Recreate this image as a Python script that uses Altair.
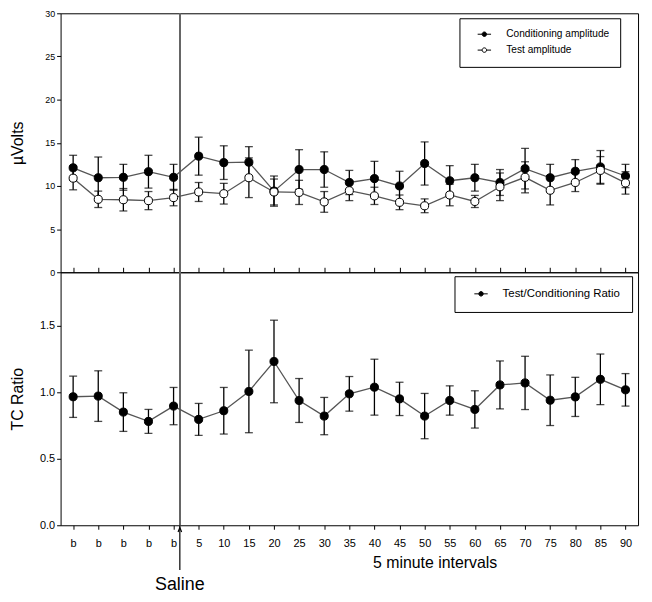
import altair as alt
import pandas as pd

labels = ["b", "b", "b", "b", "b", "5", "10", "15", "20", "25", "30", "35",
          "40", "45", "50", "55", "60", "65", "70", "75", "80", "85", "90"]
cond_mean = [12.1, 10.95, 11.0, 11.65, 11.0, 13.45, 12.7, 12.75, 9.4, 11.9, 11.9, 10.4,
             10.85, 10.0, 12.6, 10.6, 10.95, 10.4, 12.0, 10.95, 11.7, 12.2, 11.15]
cond_err = [1.45, 2.4, 1.5, 1.9, 1.5, 2.2, 1.95, 1.8, 1.75, 2.3, 2.05, 1.4,
            2.0, 1.7, 2.5, 1.75, 1.55, 1.5, 2.35, 1.55, 1.35, 1.9, 1.35]
test_mean = [10.9, 8.45, 8.4, 8.3, 8.65, 9.3, 9.1, 10.95, 9.3, 9.25, 8.15, 9.45,
             8.85, 8.1, 7.7, 8.95, 8.2, 9.9, 11.0, 9.5, 10.4, 11.8, 10.35]
test_err = [1.35, 0.95, 1.3, 1.05, 0.95, 1.1, 1.2, 2.3, 1.5, 1.4, 1.2, 1.15,
            1.0, 0.85, 0.8, 1.25, 0.7, 1.6, 1.8, 1.7, 1.05, 1.6, 1.3]
ratio_mean = [0.965, 0.97, 0.85, 0.78, 0.895, 0.795, 0.86, 1.005, 1.23, 0.937, 0.82, 0.987,
              1.037, 0.949, 0.82, 0.937, 0.87, 1.054, 1.069, 0.939, 0.964, 1.096, 1.017]
ratio_err = [0.155, 0.19, 0.145, 0.09, 0.14, 0.12, 0.175, 0.31, 0.31, 0.165, 0.14, 0.13,
             0.21, 0.125, 0.17, 0.11, 0.14, 0.18, 0.2, 0.19, 0.147, 0.19, 0.122]
series_names = ["Conditioning amplitude", "Test amplitude"]
ratio_name = "Test/Conditioning Ratio"
saline_x = 4.25

FONT = "Liberation Sans"
W = 582
H_TOP = 261
H_BOT = 255

idx = list(range(len(labels)))
rows = []
for name, m, e in [(series_names[0], cond_mean, cond_err), (series_names[1], test_mean, test_err)]:
    for i in idx:
        rows.append({"idx": i, "series": name, "mean": m[i], "lo": m[i] - e[i], "hi": m[i] + e[i]})
top_df = pd.DataFrame(rows)
bot_df = pd.DataFrame({
    "idx": idx,
    "series": [ratio_name] * len(idx),
    "mean": ratio_mean,
    "lo": [m - e for m, e in zip(ratio_mean, ratio_err)],
    "hi": [m + e for m, e in zip(ratio_mean, ratio_err)],
})

label_expr = "[" + ",".join("'" + s + "'" for s in labels) + "][datum.value]"
xscale = alt.Scale(domain=[-0.5, len(labels) - 0.5], nice=False, zero=False)

legend_path = "M-1.5,0L-0.5,0M0.5,0L1.5,0M-0.5,0A0.5,0.5,0,1,1,0.5,0A0.5,0.5,0,1,1,-0.5,0Z"


def panel(df, yscale, yaxis, xaxis, fill_domain, fill_range, legend, height, extra=None):
    def xenc(**kw):
        return alt.X(scale=xscale, axis=xaxis, **kw)
    x = xenc(field="idx", type="quantitative")
    base = alt.Chart(df)
    line = base.mark_line(color="#555555", strokeWidth=1.3).encode(
        x=x, y=alt.Y("mean:Q", scale=yscale, axis=yaxis), detail="series:N")
    vline = base.mark_rule(color="#666666", strokeWidth=1).encode(x=xenc(datum=saline_x))
    err = base.mark_rule(color="black", strokeWidth=1.3).encode(
        x=x, y="lo:Q", y2="hi:Q")
    cap_lo = base.mark_tick(orient="horizontal", size=8, thickness=1.3, color="black").encode(
        x=x, y="lo:Q")
    cap_hi = base.mark_tick(orient="horizontal", size=8, thickness=1.3, color="black").encode(
        x=x, y="hi:Q")
    pts = base.mark_point(filled=True, shape="circle", size=66, stroke="black",
                          strokeWidth=1, opacity=1).encode(
        x=x, y="mean:Q",
        fill=alt.Fill("series:N", scale=alt.Scale(domain=fill_domain, range=fill_range),
                      legend=legend))
    layers = [vline, line, err, cap_lo, cap_hi, pts]
    if extra:
        layers += extra(xenc)
    return alt.layer(*layers).properties(width=W, height=height)


top_legend = alt.Legend(
    title=None, orient="none", legendX=402, legendY=5, strokeColor="black",
    padding=11, symbolType=legend_path, symbolSize=81, symbolStrokeColor="black",
    symbolStrokeWidth=1, symbolOffset=9, labelOffset=17, labelFontSize=10.2,
    labelFont=FONT, labelColor="black", rowPadding=5, symbolOpacity=1,
)
bot_legend = alt.Legend(
    title=None, orient="none", legendX=397, legendY=4, strokeColor="black",
    padding=12, symbolType=legend_path, symbolSize=81, symbolStrokeColor="black",
    symbolStrokeWidth=1, symbolOffset=9, labelOffset=16, labelFontSize=11.5,
    labelFont=FONT, labelColor="black", symbolOpacity=1,
)

top = panel(
    top_df,
    alt.Scale(domain=[0, 30], nice=False),
    alt.Axis(values=[0, 5, 10, 15, 20, 25, 30], title="µVolts", grid=False, tickSize=4,
             labelFontSize=9, labelPadding=2, titleFontSize=16, titleFontWeight="normal",
             titleX=-43, titleY=H_TOP / 2, titleAlign="center", titleBaseline="middle",
             domain=False, tickColor="black", labelColor="black", titleColor="black"),
    alt.Axis(values=idx, labels=False, title=None, tickSize=5, offset=-5, domain=False,
             grid=False, tickColor="black"),
    series_names, ["black", "white"], top_legend, H_TOP,
)

ann_df = pd.DataFrame({"label": ["Saline"]})


def annotations(xenc):
    ann = alt.Chart(ann_df)
    shaft = ann.mark_rule(color="black", strokeWidth=1.2).encode(
        x=xenc(datum=saline_x), y=alt.value(H_BOT), y2=alt.value(H_BOT + 45))
    head = ann.mark_point(shape="M-0.4,0.5L0,-0.5L0.4,0.5", size=81, filled=False,
                          stroke="black", strokeWidth=1.2, opacity=1).encode(
        x=xenc(datum=saline_x), y=alt.value(H_BOT + 4.5))
    saline = ann.mark_text(fontSize=18, font=FONT, color="black", baseline="middle").encode(
        x=xenc(datum=saline_x), y=alt.value(H_BOT + 60), text="label:N")
    return [shaft, head, saline]


bottom = panel(
    bot_df,
    alt.Scale(domain=[0, 1.9], nice=False),
    alt.Axis(values=[0, 0.5, 1.0, 1.5], format=".1f", title="TC Ratio", grid=False,
             tickSize=4, labelFontSize=11, labelPadding=2, titleFontSize=16,
             titleFontWeight="normal", titleX=-43, titleY=H_BOT / 2, titleAlign="center",
             titleBaseline="middle", domain=False, tickColor="black", labelColor="black",
             titleColor="black"),
    alt.Axis(values=idx, labelExpr=label_expr, labelOverlap=False, title="5 minute intervals",
             grid=False, tickSize=4, labelPadding=8, labelFontSize=11, titleFontSize=16,
             titleFontWeight="normal", titleX=377, titleY=38, titleAlign="center",
             titleBaseline="middle", domain=False, tickColor="black", labelColor="black",
             titleColor="black"),
    [ratio_name], ["black"], bot_legend, H_BOT, extra=annotations,
)

chart = alt.vconcat(top, bottom, spacing=0, bounds="flush").resolve_scale(
    fill="independent"
).properties(
    padding={"left": 1, "top": -2, "right": 5, "bottom": 5}
).configure(font=FONT).configure_axis(labelOverlap=False).configure_view(
    stroke="black", strokeWidth=1)

chart.save("out.html", embed_options={"renderer": "svg", "actions": False})
